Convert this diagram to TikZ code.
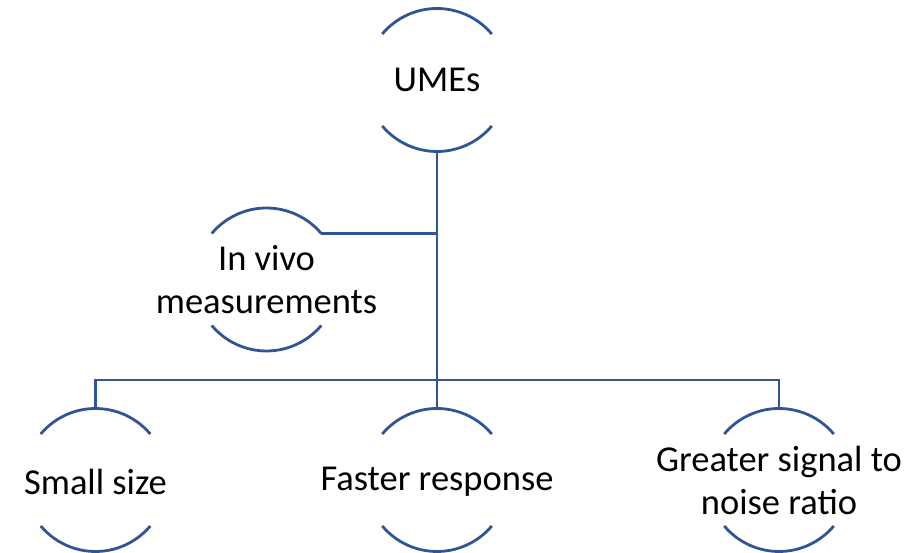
\documentclass[tikz,border=0pt]{standalone}
\usepackage{fontspec}
\setmainfont{Carlito}
\definecolor{lineblue}{RGB}{47,85,151}
\begin{document}
\begin{tikzpicture}[x=1pt,y=1pt,
  lbl/.style={align=center,font=\fontsize{36.5}{43}\selectfont,inner sep=0pt,text=black},
  ring/.style={draw=lineblue,line width=2.8pt},
  link/.style={draw=lineblue,line width=2.8pt}]
\useasboundingbox (0,0) rectangle (917,553);
\node[lbl] (u) at (437,473) {UMEs};
\node[lbl] (v) at (266.5,273.5) {In vivo\\measurements};
\node[lbl] (s) at (95.5,71) {Small size};
\node[lbl] (f) at (437,71) {Faster response};
\node[lbl] (g) at (779,73) {Greater signal to\\noise ratio};
\foreach \n/\cy in {u/473,v/273.5,s/73,f/73,g/73}{
  \coordinate (c\n) at (\n.center |- 0,\cy);
  \draw[ring] ([shift={(40:71.5)}]c\n) arc[start angle=40,end angle=140,radius=71.5];
  \draw[ring] ([shift={(220:71.5)}]c\n) arc[start angle=220,end angle=320,radius=71.5];
}
\coordinate (j) at (437,173);
\coordinate (vtop) at ([shift={(40:71.5)}]cv);
\draw[link] ([yshift=-71.5]cu) -- (j);
\draw[link] (vtop) -- (vtop -| u.center);
\draw[link] ([yshift=71.5]cs) |- (j) -| ([yshift=71.5]cg);
\draw[link] ([yshift=71.5]cf) -- (j);
\end{tikzpicture}
\end{document}
